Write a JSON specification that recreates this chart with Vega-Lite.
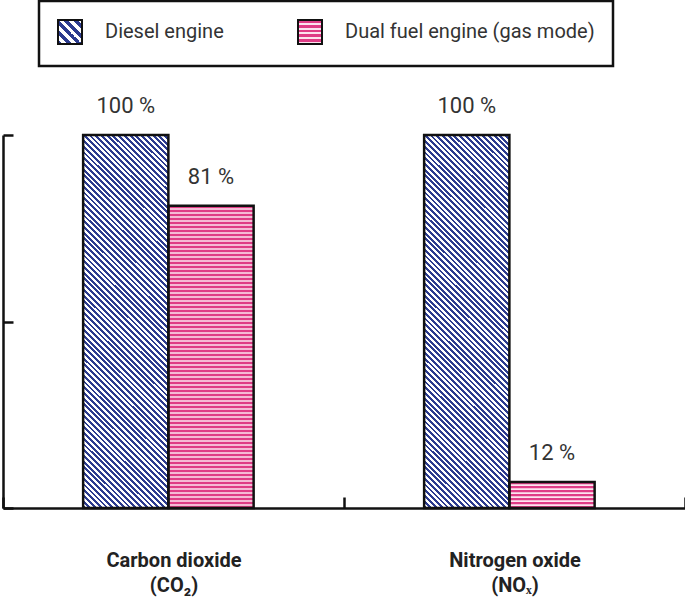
{
  "$schema": "https://vega.github.io/schema/vega-lite/v6.json",
  "width": 682,
  "height": 373,
  "autosize": {"type": "none"},
  "padding": {"left": 3, "top": 135, "right": 0, "bottom": 91},
  "background": "white",
  "config": {"view": {"stroke": null}, "legend": {"strokeWidth": 2.5}},
  "data": {"values": [
    {"gas": "CO2", "engine": "Diesel engine", "value": 100, "label": "100 %"},
    {"gas": "CO2", "engine": "Dual fuel engine (gas mode)", "value": 81, "label": "81 %"},
    {"gas": "NOx", "engine": "Diesel engine", "value": 100, "label": "100 %"},
    {"gas": "NOx", "engine": "Dual fuel engine (gas mode)", "value": 7, "label": "12 %"}
  ]},
  "encoding": {
    "x": {"field": "gas", "type": "nominal", "scale": {"paddingInner": 0, "paddingOuter": 0},
      "axis": {"title": null, "domainColor": "#111", "domainWidth": 2.5, "tickColor": "#111", "tickWidth": 2.5, "tickSize": -11, "tickBand": "extent", "labelFont": "Roboto", "labelFontWeight": "bold", "labelFontSize": 20, "labelColor": "#222", "labelPadding": 53, "labelLineHeight": 25, "labelAngle": 0, "grid": false,
        "labelExpr": "datum.value === 'CO2' ? ['Carbon dioxide', '(CO₂)'] : datum.value === 'NOx' ? ['Nitrogen oxide', '(NOₓ)'] : ''"}},
    "xOffset": {"field": "engine", "type": "nominal", "scale": {"paddingInner": 0, "paddingOuter": 1.006, "align": 0.47}},
    "y": {"field": "value", "type": "quantitative", "scale": {"domain": [0, 100]},
      "axis": {"title": null, "labels": false, "values": [0, 50, 100], "tickSize": -10, "tickWidth": 2.5, "tickColor": "#111", "domainColor": "#111", "domainWidth": 2.5, "grid": false}}
  },
  "layer": [
    {
      "transform": [{"filter": "datum.engine === 'Diesel engine'"}],
      "mark": {"type": "bar", "stroke": null, "fill": {"gradient": "linear", "x1": 0, "y1": 1, "x2": 0.266, "y2": -0.1673, "stops": [
{"offset":0,"color":"#2c3b8f"},{"offset":0.00625,"color":"#2c3b8f"},{"offset":0.00625,"color":"#fff"},{"offset":0.0125,"color":"#fff"},{"offset":0.0125,"color":"#2c3b8f"},{"offset":0.01875,"color":"#2c3b8f"},{"offset":0.01875,"color":"#fff"},{"offset":0.025,"color":"#fff"},{"offset":0.025,"color":"#2c3b8f"},{"offset":0.03125,"color":"#2c3b8f"},{"offset":0.03125,"color":"#fff"},{"offset":0.0375,"color":"#fff"},{"offset":0.0375,"color":"#2c3b8f"},{"offset":0.04375,"color":"#2c3b8f"},{"offset":0.04375,"color":"#fff"},{"offset":0.05,"color":"#fff"},{"offset":0.05,"color":"#2c3b8f"},{"offset":0.05625,"color":"#2c3b8f"},{"offset":0.05625,"color":"#fff"},{"offset":0.0625,"color":"#fff"},{"offset":0.0625,"color":"#2c3b8f"},{"offset":0.06875,"color":"#2c3b8f"},{"offset":0.06875,"color":"#fff"},{"offset":0.075,"color":"#fff"},{"offset":0.075,"color":"#2c3b8f"},{"offset":0.08125,"color":"#2c3b8f"},{"offset":0.08125,"color":"#fff"},{"offset":0.0875,"color":"#fff"},{"offset":0.0875,"color":"#2c3b8f"},{"offset":0.09375,"color":"#2c3b8f"},{"offset":0.09375,"color":"#fff"},{"offset":0.1,"color":"#fff"},
{"offset":0.1,"color":"#2c3b8f"},{"offset":0.10625,"color":"#2c3b8f"},{"offset":0.10625,"color":"#fff"},{"offset":0.1125,"color":"#fff"},{"offset":0.1125,"color":"#2c3b8f"},{"offset":0.11875,"color":"#2c3b8f"},{"offset":0.11875,"color":"#fff"},{"offset":0.125,"color":"#fff"},{"offset":0.125,"color":"#2c3b8f"},{"offset":0.13125,"color":"#2c3b8f"},{"offset":0.13125,"color":"#fff"},{"offset":0.1375,"color":"#fff"},{"offset":0.1375,"color":"#2c3b8f"},{"offset":0.14375,"color":"#2c3b8f"},{"offset":0.14375,"color":"#fff"},{"offset":0.15,"color":"#fff"},{"offset":0.15,"color":"#2c3b8f"},{"offset":0.15625,"color":"#2c3b8f"},{"offset":0.15625,"color":"#fff"},{"offset":0.1625,"color":"#fff"},{"offset":0.1625,"color":"#2c3b8f"},{"offset":0.16875,"color":"#2c3b8f"},{"offset":0.16875,"color":"#fff"},{"offset":0.175,"color":"#fff"},{"offset":0.175,"color":"#2c3b8f"},{"offset":0.18125,"color":"#2c3b8f"},{"offset":0.18125,"color":"#fff"},{"offset":0.1875,"color":"#fff"},{"offset":0.1875,"color":"#2c3b8f"},{"offset":0.19375,"color":"#2c3b8f"},{"offset":0.19375,"color":"#fff"},{"offset":0.2,"color":"#fff"},
{"offset":0.2,"color":"#2c3b8f"},{"offset":0.20625,"color":"#2c3b8f"},{"offset":0.20625,"color":"#fff"},{"offset":0.2125,"color":"#fff"},{"offset":0.2125,"color":"#2c3b8f"},{"offset":0.21875,"color":"#2c3b8f"},{"offset":0.21875,"color":"#fff"},{"offset":0.225,"color":"#fff"},{"offset":0.225,"color":"#2c3b8f"},{"offset":0.23125,"color":"#2c3b8f"},{"offset":0.23125,"color":"#fff"},{"offset":0.2375,"color":"#fff"},{"offset":0.2375,"color":"#2c3b8f"},{"offset":0.24375,"color":"#2c3b8f"},{"offset":0.24375,"color":"#fff"},{"offset":0.25,"color":"#fff"},{"offset":0.25,"color":"#2c3b8f"},{"offset":0.25625,"color":"#2c3b8f"},{"offset":0.25625,"color":"#fff"},{"offset":0.2625,"color":"#fff"},{"offset":0.2625,"color":"#2c3b8f"},{"offset":0.26875,"color":"#2c3b8f"},{"offset":0.26875,"color":"#fff"},{"offset":0.275,"color":"#fff"},{"offset":0.275,"color":"#2c3b8f"},{"offset":0.28125,"color":"#2c3b8f"},{"offset":0.28125,"color":"#fff"},{"offset":0.2875,"color":"#fff"},{"offset":0.2875,"color":"#2c3b8f"},{"offset":0.29375,"color":"#2c3b8f"},{"offset":0.29375,"color":"#fff"},{"offset":0.3,"color":"#fff"},
{"offset":0.3,"color":"#2c3b8f"},{"offset":0.30625,"color":"#2c3b8f"},{"offset":0.30625,"color":"#fff"},{"offset":0.3125,"color":"#fff"},{"offset":0.3125,"color":"#2c3b8f"},{"offset":0.31875,"color":"#2c3b8f"},{"offset":0.31875,"color":"#fff"},{"offset":0.325,"color":"#fff"},{"offset":0.325,"color":"#2c3b8f"},{"offset":0.33125,"color":"#2c3b8f"},{"offset":0.33125,"color":"#fff"},{"offset":0.3375,"color":"#fff"},{"offset":0.3375,"color":"#2c3b8f"},{"offset":0.34375,"color":"#2c3b8f"},{"offset":0.34375,"color":"#fff"},{"offset":0.35,"color":"#fff"},{"offset":0.35,"color":"#2c3b8f"},{"offset":0.35625,"color":"#2c3b8f"},{"offset":0.35625,"color":"#fff"},{"offset":0.3625,"color":"#fff"},{"offset":0.3625,"color":"#2c3b8f"},{"offset":0.36875,"color":"#2c3b8f"},{"offset":0.36875,"color":"#fff"},{"offset":0.375,"color":"#fff"},{"offset":0.375,"color":"#2c3b8f"},{"offset":0.38125,"color":"#2c3b8f"},{"offset":0.38125,"color":"#fff"},{"offset":0.3875,"color":"#fff"},{"offset":0.3875,"color":"#2c3b8f"},{"offset":0.39375,"color":"#2c3b8f"},{"offset":0.39375,"color":"#fff"},{"offset":0.4,"color":"#fff"},
{"offset":0.4,"color":"#2c3b8f"},{"offset":0.40625,"color":"#2c3b8f"},{"offset":0.40625,"color":"#fff"},{"offset":0.4125,"color":"#fff"},{"offset":0.4125,"color":"#2c3b8f"},{"offset":0.41875,"color":"#2c3b8f"},{"offset":0.41875,"color":"#fff"},{"offset":0.425,"color":"#fff"},{"offset":0.425,"color":"#2c3b8f"},{"offset":0.43125,"color":"#2c3b8f"},{"offset":0.43125,"color":"#fff"},{"offset":0.4375,"color":"#fff"},{"offset":0.4375,"color":"#2c3b8f"},{"offset":0.44375,"color":"#2c3b8f"},{"offset":0.44375,"color":"#fff"},{"offset":0.45,"color":"#fff"},{"offset":0.45,"color":"#2c3b8f"},{"offset":0.45625,"color":"#2c3b8f"},{"offset":0.45625,"color":"#fff"},{"offset":0.4625,"color":"#fff"},{"offset":0.4625,"color":"#2c3b8f"},{"offset":0.46875,"color":"#2c3b8f"},{"offset":0.46875,"color":"#fff"},{"offset":0.475,"color":"#fff"},{"offset":0.475,"color":"#2c3b8f"},{"offset":0.48125,"color":"#2c3b8f"},{"offset":0.48125,"color":"#fff"},{"offset":0.4875,"color":"#fff"},{"offset":0.4875,"color":"#2c3b8f"},{"offset":0.49375,"color":"#2c3b8f"},{"offset":0.49375,"color":"#fff"},{"offset":0.5,"color":"#fff"},
{"offset":0.5,"color":"#2c3b8f"},{"offset":0.50625,"color":"#2c3b8f"},{"offset":0.50625,"color":"#fff"},{"offset":0.5125,"color":"#fff"},{"offset":0.5125,"color":"#2c3b8f"},{"offset":0.51875,"color":"#2c3b8f"},{"offset":0.51875,"color":"#fff"},{"offset":0.525,"color":"#fff"},{"offset":0.525,"color":"#2c3b8f"},{"offset":0.53125,"color":"#2c3b8f"},{"offset":0.53125,"color":"#fff"},{"offset":0.5375,"color":"#fff"},{"offset":0.5375,"color":"#2c3b8f"},{"offset":0.54375,"color":"#2c3b8f"},{"offset":0.54375,"color":"#fff"},{"offset":0.55,"color":"#fff"},{"offset":0.55,"color":"#2c3b8f"},{"offset":0.55625,"color":"#2c3b8f"},{"offset":0.55625,"color":"#fff"},{"offset":0.5625,"color":"#fff"},{"offset":0.5625,"color":"#2c3b8f"},{"offset":0.56875,"color":"#2c3b8f"},{"offset":0.56875,"color":"#fff"},{"offset":0.575,"color":"#fff"},{"offset":0.575,"color":"#2c3b8f"},{"offset":0.58125,"color":"#2c3b8f"},{"offset":0.58125,"color":"#fff"},{"offset":0.5875,"color":"#fff"},{"offset":0.5875,"color":"#2c3b8f"},{"offset":0.59375,"color":"#2c3b8f"},{"offset":0.59375,"color":"#fff"},{"offset":0.6,"color":"#fff"},
{"offset":0.6,"color":"#2c3b8f"},{"offset":0.60625,"color":"#2c3b8f"},{"offset":0.60625,"color":"#fff"},{"offset":0.6125,"color":"#fff"},{"offset":0.6125,"color":"#2c3b8f"},{"offset":0.61875,"color":"#2c3b8f"},{"offset":0.61875,"color":"#fff"},{"offset":0.625,"color":"#fff"},{"offset":0.625,"color":"#2c3b8f"},{"offset":0.63125,"color":"#2c3b8f"},{"offset":0.63125,"color":"#fff"},{"offset":0.6375,"color":"#fff"},{"offset":0.6375,"color":"#2c3b8f"},{"offset":0.64375,"color":"#2c3b8f"},{"offset":0.64375,"color":"#fff"},{"offset":0.65,"color":"#fff"},{"offset":0.65,"color":"#2c3b8f"},{"offset":0.65625,"color":"#2c3b8f"},{"offset":0.65625,"color":"#fff"},{"offset":0.6625,"color":"#fff"},{"offset":0.6625,"color":"#2c3b8f"},{"offset":0.66875,"color":"#2c3b8f"},{"offset":0.66875,"color":"#fff"},{"offset":0.675,"color":"#fff"},{"offset":0.675,"color":"#2c3b8f"},{"offset":0.68125,"color":"#2c3b8f"},{"offset":0.68125,"color":"#fff"},{"offset":0.6875,"color":"#fff"},{"offset":0.6875,"color":"#2c3b8f"},{"offset":0.69375,"color":"#2c3b8f"},{"offset":0.69375,"color":"#fff"},{"offset":0.7,"color":"#fff"},
{"offset":0.7,"color":"#2c3b8f"},{"offset":0.70625,"color":"#2c3b8f"},{"offset":0.70625,"color":"#fff"},{"offset":0.7125,"color":"#fff"},{"offset":0.7125,"color":"#2c3b8f"},{"offset":0.71875,"color":"#2c3b8f"},{"offset":0.71875,"color":"#fff"},{"offset":0.725,"color":"#fff"},{"offset":0.725,"color":"#2c3b8f"},{"offset":0.73125,"color":"#2c3b8f"},{"offset":0.73125,"color":"#fff"},{"offset":0.7375,"color":"#fff"},{"offset":0.7375,"color":"#2c3b8f"},{"offset":0.74375,"color":"#2c3b8f"},{"offset":0.74375,"color":"#fff"},{"offset":0.75,"color":"#fff"},{"offset":0.75,"color":"#2c3b8f"},{"offset":0.75625,"color":"#2c3b8f"},{"offset":0.75625,"color":"#fff"},{"offset":0.7625,"color":"#fff"},{"offset":0.7625,"color":"#2c3b8f"},{"offset":0.76875,"color":"#2c3b8f"},{"offset":0.76875,"color":"#fff"},{"offset":0.775,"color":"#fff"},{"offset":0.775,"color":"#2c3b8f"},{"offset":0.78125,"color":"#2c3b8f"},{"offset":0.78125,"color":"#fff"},{"offset":0.7875,"color":"#fff"},{"offset":0.7875,"color":"#2c3b8f"},{"offset":0.79375,"color":"#2c3b8f"},{"offset":0.79375,"color":"#fff"},{"offset":0.8,"color":"#fff"},
{"offset":0.8,"color":"#2c3b8f"},{"offset":0.80625,"color":"#2c3b8f"},{"offset":0.80625,"color":"#fff"},{"offset":0.8125,"color":"#fff"},{"offset":0.8125,"color":"#2c3b8f"},{"offset":0.81875,"color":"#2c3b8f"},{"offset":0.81875,"color":"#fff"},{"offset":0.825,"color":"#fff"},{"offset":0.825,"color":"#2c3b8f"},{"offset":0.83125,"color":"#2c3b8f"},{"offset":0.83125,"color":"#fff"},{"offset":0.8375,"color":"#fff"},{"offset":0.8375,"color":"#2c3b8f"},{"offset":0.84375,"color":"#2c3b8f"},{"offset":0.84375,"color":"#fff"},{"offset":0.85,"color":"#fff"},{"offset":0.85,"color":"#2c3b8f"},{"offset":0.85625,"color":"#2c3b8f"},{"offset":0.85625,"color":"#fff"},{"offset":0.8625,"color":"#fff"},{"offset":0.8625,"color":"#2c3b8f"},{"offset":0.86875,"color":"#2c3b8f"},{"offset":0.86875,"color":"#fff"},{"offset":0.875,"color":"#fff"},{"offset":0.875,"color":"#2c3b8f"},{"offset":0.88125,"color":"#2c3b8f"},{"offset":0.88125,"color":"#fff"},{"offset":0.8875,"color":"#fff"},{"offset":0.8875,"color":"#2c3b8f"},{"offset":0.89375,"color":"#2c3b8f"},{"offset":0.89375,"color":"#fff"},{"offset":0.9,"color":"#fff"},
{"offset":0.9,"color":"#2c3b8f"},{"offset":0.90625,"color":"#2c3b8f"},{"offset":0.90625,"color":"#fff"},{"offset":0.9125,"color":"#fff"},{"offset":0.9125,"color":"#2c3b8f"},{"offset":0.91875,"color":"#2c3b8f"},{"offset":0.91875,"color":"#fff"},{"offset":0.925,"color":"#fff"},{"offset":0.925,"color":"#2c3b8f"},{"offset":0.93125,"color":"#2c3b8f"},{"offset":0.93125,"color":"#fff"},{"offset":0.9375,"color":"#fff"},{"offset":0.9375,"color":"#2c3b8f"},{"offset":0.94375,"color":"#2c3b8f"},{"offset":0.94375,"color":"#fff"},{"offset":0.95,"color":"#fff"},{"offset":0.95,"color":"#2c3b8f"},{"offset":0.95625,"color":"#2c3b8f"},{"offset":0.95625,"color":"#fff"},{"offset":0.9625,"color":"#fff"},{"offset":0.9625,"color":"#2c3b8f"},{"offset":0.96875,"color":"#2c3b8f"},{"offset":0.96875,"color":"#fff"},{"offset":0.975,"color":"#fff"},{"offset":0.975,"color":"#2c3b8f"},{"offset":0.98125,"color":"#2c3b8f"},{"offset":0.98125,"color":"#fff"},{"offset":0.9875,"color":"#fff"},{"offset":0.9875,"color":"#2c3b8f"},{"offset":0.99375,"color":"#2c3b8f"},{"offset":0.99375,"color":"#fff"},{"offset":1,"color":"#fff"}
      ]}}
    },
    {
      "transform": [{"filter": "datum.engine !== 'Diesel engine'"}],
      "mark": {"type": "bar", "stroke": null, "fill": "#fce4ef"}
    },
    {
      "transform": [{"filter": "datum.engine !== 'Diesel engine'"}],
      "mark": {"type": "rule", "stroke": "#df3c86", "strokeWidth": 85, "strokeDash": [2.4, 1.6], "strokeCap": "butt"},
      "encoding": {"y2": {"datum": 0}}
    },
    {
      "mark": {"type": "bar", "fill": null, "stroke": "#111", "strokeWidth": 2.5}
    },
    {
      "mark": {"type": "rule", "strokeWidth": 2, "strokeCap": "butt"},
      "encoding": {
        "y2": {"field": "value"},
        "color": {"field": "engine", "type": "nominal", "scale": {"range": ["#111", "#111"]},
          "legend": {"orient": "none", "legendX": 36, "legendY": -134, "direction": "horizontal", "title": null, "strokeColor": "#111", "padding": 18, "symbolType": "square", "symbolSize": 576, "symbolStrokeWidth": 2, "symbolOpacity": 1, "labelFont": "Roboto", "labelFontSize": 20, "labelColor": "#333", "labelOffset": 22, "columnPadding": 70, "labelLimit": 400,
            "symbolFillColor": {"expr": "datum.value === 'Diesel engine' ? {gradient: 'linear', x1: 0, y1: 1, x2: 1, y2: 0, stops: [{offset: 0, color: '#2c3b8f'}, {offset: 0.1, color: '#2c3b8f'}, {offset: 0.1, color: '#fff'}, {offset: 0.2, color: '#fff'}, {offset: 0.2, color: '#2c3b8f'}, {offset: 0.3, color: '#2c3b8f'}, {offset: 0.3, color: '#fff'}, {offset: 0.4, color: '#fff'}, {offset: 0.4, color: '#2c3b8f'}, {offset: 0.5, color: '#2c3b8f'}, {offset: 0.5, color: '#fff'}, {offset: 0.6, color: '#fff'}, {offset: 0.6, color: '#2c3b8f'}, {offset: 0.7, color: '#2c3b8f'}, {offset: 0.7, color: '#fff'}, {offset: 0.8, color: '#fff'}, {offset: 0.8, color: '#2c3b8f'}, {offset: 0.9, color: '#2c3b8f'}, {offset: 0.9, color: '#fff'}, {offset: 1, color: '#fff'}]} : {gradient: 'linear', x1: 0, y1: 0, x2: 0, y2: 1, stops: [{offset: 0, color: '#df3c86'}, {offset: 0.12, color: '#df3c86'}, {offset: 0.12, color: '#fce4ef'}, {offset: 0.2, color: '#fce4ef'}, {offset: 0.2, color: '#df3c86'}, {offset: 0.32, color: '#df3c86'}, {offset: 0.32, color: '#fce4ef'}, {offset: 0.4, color: '#fce4ef'}, {offset: 0.4, color: '#df3c86'}, {offset: 0.52, color: '#df3c86'}, {offset: 0.52, color: '#fce4ef'}, {offset: 0.6, color: '#fce4ef'}, {offset: 0.6, color: '#df3c86'}, {offset: 0.72, color: '#df3c86'}, {offset: 0.72, color: '#fce4ef'}, {offset: 0.8, color: '#fce4ef'}, {offset: 0.8, color: '#df3c86'}, {offset: 0.92, color: '#df3c86'}, {offset: 0.92, color: '#fce4ef'}, {offset: 1, color: '#fce4ef'}]}"}
          }
        }
      }
    },
    {
      "mark": {"type": "text", "baseline": "alphabetic", "dy": -22, "font": "Roboto", "fontSize": 22, "color": "#333"},
      "encoding": {"text": {"field": "label"}}
    }
  ]
}
